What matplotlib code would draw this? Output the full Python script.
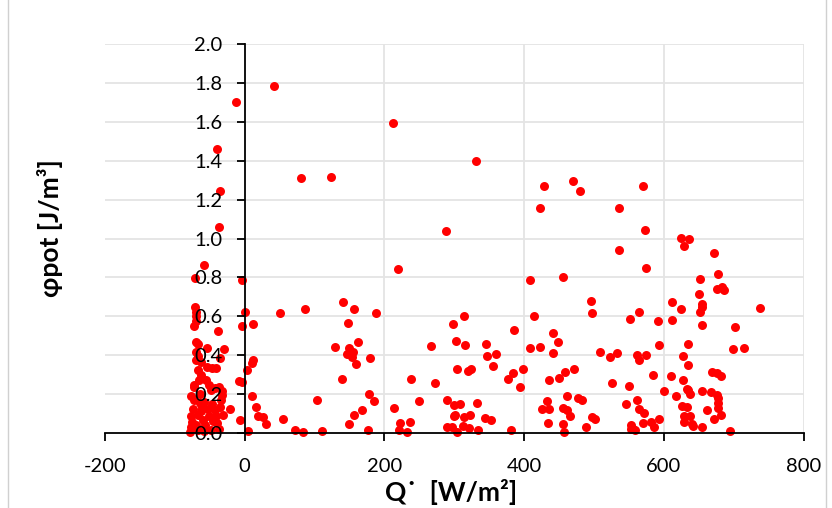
import matplotlib.pyplot as plt
from matplotlib.lines import Line2D

# heat flux Q' [W/m2] and potential phi_pot [J/m3]
q_dot = [
    -13, 42, -40, -35, -37, -58, -71, -4, 80, 124, 220, 213, 331, 288, 429, 423,
    470, 480, 536, 570, 573, 535, 624, 636, 628, 672, 575, 652, 678, 676, 683, 686,
    409, 456, 650, 612, 625, 655, 655, 652, 737, 551, 565, 592, 611, 654, 701, 593,
    634, 699, 715, 508, 523, 533, 561, 565, 575, 627, 635, 669, 676, 681, 584, 610,
    627, 525, 550, 600, 617, 633, 637, 634, 654, 667, 676, 678, 677, 677, 681, 672,
    561, 546, 564, 571, 626, 633, 661, 629, 638, 629, 640, 642, 654, 593, 570, 581,
    586, 553, 556, 559, 553, 694, 496, 497, 414, 314, 298, 386, 441, 448, 267, 303,
    316, 346, 347, 359, 356, 408, 422, 441, 304, 319, 324, 377, 384, 399, 394, 273,
    435, 450, 458, 471, 250, 290, 300, 308, 332, 299, 301, 314, 322, 289, 297, 304,
    312, 321, 334, 344, 352, 381, 432, 426, 435, 462, 477, 483, 456, 462, 466, 434,
    456, 457, 489, 497, 501, 0, -4, 12, 50, 87, 141, 157, 188, 148, 162, 130,
    149, 155, 146, 153, 159, 179, 139, 238, 12, 11, 4, -8, -4, 10, 17, 19,
    26, 30, -7, 5, 55, 72, 83, 104, 111, 178, 185, 168, 156, 149, 177, 214,
    222, 236, 221, 233, -71, -69, -70, -69, -72, -38, -69, -67, -69, -67, -69, -54,
    -29, -35, -62, -54, -46, -67, -62, -65, -55, -51, -48, -73, -36, -33, -64, -61,
    -34, -35, -21, -77, -75, -77, -67, -60, -51, -43, -41, -39, -67, -58, -48, -41,
    -72, -77, -72, -43, -33, -74, -70, -63, -56, -53, -45, -36, -31, -78, -64, -58,
    -47,
]
phi_pot = [
    1.70, 1.786, 1.463, 1.244, 1.058, 0.863, 0.796, 0.784, 1.311, 1.314, 0.844, 1.594, 1.401, 1.040, 1.268, 1.158,
    1.294, 1.242, 1.158, 1.271, 1.046, 0.940, 1.005, 0.995, 0.959, 0.923, 0.849, 0.793, 0.815, 0.740, 0.750, 0.736,
    0.786, 0.800, 0.714, 0.671, 0.638, 0.662, 0.647, 0.621, 0.643, 0.588, 0.624, 0.573, 0.580, 0.557, 0.547, 0.453,
    0.458, 0.429, 0.439, 0.417, 0.390, 0.413, 0.403, 0.376, 0.400, 0.396, 0.350, 0.314, 0.310, 0.290, 0.295, 0.292,
    0.271, 0.257, 0.240, 0.216, 0.192, 0.226, 0.199, 0.218, 0.216, 0.209, 0.196, 0.179, 0.156, 0.130, 0.093, 0.072,
    0.168, 0.148, 0.125, 0.101, 0.137, 0.134, 0.118, 0.084, 0.089, 0.058, 0.046, 0.034, 0.032, 0.072, 0.050, 0.055,
    0.031, 0.038, 0.019, 0.015, 0.021, 0.010, 0.678, 0.618, 0.602, 0.600, 0.561, 0.530, 0.513, 0.465, 0.449, 0.473,
    0.451, 0.458, 0.395, 0.408, 0.345, 0.437, 0.444, 0.410, 0.326, 0.316, 0.328, 0.279, 0.307, 0.329, 0.238, 0.254,
    0.274, 0.280, 0.312, 0.326, 0.166, 0.168, 0.143, 0.146, 0.154, 0.087, 0.094, 0.079, 0.094, 0.032, 0.032, 0.005,
    0.036, 0.024, 0.015, 0.077, 0.065, 0.017, 0.163, 0.120, 0.125, 0.189, 0.180, 0.170, 0.129, 0.117, 0.087, 0.053,
    0.046, 0.005, 0.031, 0.079, 0.069, 0.621, 0.552, 0.562, 0.619, 0.635, 0.673, 0.638, 0.616, 0.563, 0.468, 0.443,
    0.437, 0.417, 0.405, 0.391, 0.354, 0.383, 0.276, 0.276, 0.376, 0.360, 0.324, 0.268, 0.261, 0.187, 0.132, 0.089,
    0.081, 0.043, 0.065, 0.010, 0.070, 0.012, 0.004, 0.168, 0.010, 0.201, 0.165, 0.118, 0.091, 0.045, 0.012, 0.130,
    0.053, 0.055, 0.012, 0.003, 0.647, 0.624, 0.599, 0.573, 0.551, 0.525, 0.468, 0.458, 0.418, 0.393, 0.376, 0.439,
    0.432, 0.383, 0.367, 0.341, 0.336, 0.324, 0.295, 0.273, 0.273, 0.247, 0.221, 0.247, 0.238, 0.213, 0.153, 0.132,
    0.170, 0.135, 0.124, 0.084, 0.058, 0.032, 0.093, 0.067, 0.084, 0.118, 0.084, 0.050, 0.015, 0.007, 0.015, 0.333,
    0.238, 0.187, 0.170, 0.230, 0.196, 0.120, 0.040, 0.110, 0.040, 0.120, 0.060, 0.020, 0.090, 0.005, 0.200, 0.160,
    0.150,
]

x_ticks = [-200, 0, 200, 400, 600, 800]
y_ticks = [0.0, 0.2, 0.4, 0.6, 0.8, 1.0, 1.2, 1.4, 1.6, 1.8, 2.0]

plt.rcParams['font.family'] = ['Lato', 'DejaVu Sans']
plt.rcParams['axes.unicode_minus'] = False

fig = plt.figure(figsize=(8.32, 5.08), dpi=100)
ax = fig.add_axes([0.126, 0.148, 0.840, 0.765])

# light gridlines drawn behind the dots
for y in y_ticks[1:]:
    ax.axhline(y, color='#e4e4e4', lw=1.3, zorder=0)
for x in x_ticks[2:]:
    ax.axvline(x, color='#e4e4e4', lw=1.3, zorder=0)

ax.scatter(q_dot, phi_pot, s=42, color='#ff0000', linewidths=0, zorder=1, clip_on=False)

ax.set_xlim(-200, 800)
ax.set_ylim(0, 2.0)
ax.set_xticks(x_ticks)
ax.set_yticks(y_ticks)
ax.set_yticklabels([f'{v:.1f}' for v in y_ticks])

# y axis crosses at x = 0
ax.spines['left'].set_position(('data', 0))
ax.spines['top'].set_visible(False)
ax.spines['right'].set_visible(False)
for s in ['left', 'bottom']:
    ax.spines[s].set_linewidth(1.3)
    ax.spines[s].set_color('black')

ax.tick_params(axis='both', direction='out', length=6, width=1.3, labelsize=14.5)
ax.tick_params(axis='x', pad=12)
ax.tick_params(axis='y', pad=10)

fig.text(451 / 832, 1 - 492 / 508, 'Q\u02d9  [W/m\u00b2]', ha='center', va='center',
         fontsize=19, fontweight='bold')
fig.text(50 / 832, 1 - 228 / 508, '\u03c6pot [J/m\u00b3]', ha='center', va='center',
         rotation=90, fontsize=19, fontweight='bold')

# chart area border
for xb in [8 / 832, 826 / 832]:
    fig.add_artist(Line2D([xb, xb], [0, 1], transform=fig.transFigure, color='#d0d0d0', lw=1))

fig.savefig('out.png', dpi=100)
